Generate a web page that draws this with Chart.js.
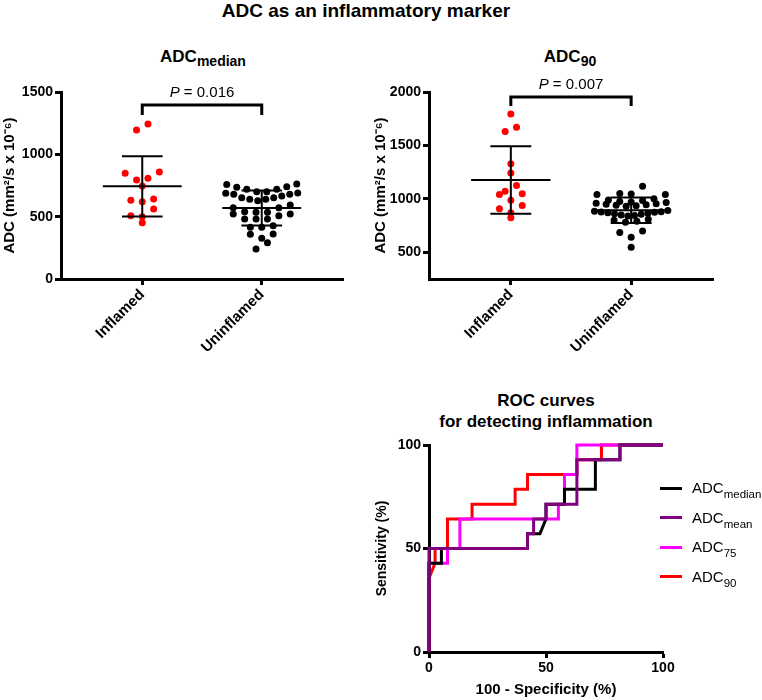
<!DOCTYPE html>
<html>
<head>
<meta charset="utf-8">
<script src="https://cdn.jsdelivr.net/npm/chart.js@4.4.1/dist/chart.umd.min.js"></script>
<style>
  html, body { margin: 0; padding: 0; background: #fff; }
  body { font-family: 'Liberation Sans', Arial, Helvetica, sans-serif; color: #000; }
  #page { position: relative; width: 762px; height: 700px; overflow: hidden; }
  canvas { position: absolute; }
  .title { position: absolute; font-weight: bold; text-align: center; white-space: nowrap; }
  .title sub { font-size: 14px; position: relative; top: 4px; vertical-align: baseline; }
  .legend { position: absolute; left: 660px; height: 18px; width: 110px; font-size: 15px; line-height: 18px; white-space: nowrap; }
  .legend .swatch { position: absolute; left: 0; top: 7.5px; width: 22px; height: 3px; }
  .legend .lbl { position: absolute; left: 32px; top: 0; }
  .legend sub { font-size: 11.5px; position: relative; top: 5px; vertical-align: baseline; }
</style>
</head>
<body>
<div id="page">
  <div class="title" style="left:216px; top:0; width:300px; font-size:19px; line-height:22px;">ADC as an inflammatory marker</div>
  <div class="title" style="left:103px; top:47px; width:200px; font-size:17px; line-height:20px;">ADC<sub>median</sub></div>
  <div class="title" style="left:470px; top:47px; width:200px; font-size:17px; line-height:20px;">ADC<sub>90</sub></div>
  <div class="title" style="left:396px; top:390px; width:300px; font-size:17px; line-height:21px;">ROC curves<br>for detecting inflammation</div>
  <canvas id="medianChart" width="360" height="300" style="left:0; top:60px;"></canvas>
  <canvas id="p90Chart" width="360" height="300" style="left:368px; top:60px;"></canvas>
  <canvas id="rocChart" width="310" height="270" style="left:370px; top:430px;"></canvas>
  <div id="rocLegend"></div>
</div>
<script>
// ---- data ----
const groups = ['Inflamed', 'Uninflamed'];

const medianInflamed = [1243, 1195, 858, 848, 808, 794, 746, 642, 631, 620, 561, 508, 500, 452];
const medianUninflamed = [762, 758, 740, 735, 719, 719, 700, 700, 690, 687, 679, 679,
  666, 652, 652, 639, 639, 628, 593, 572, 572,
  540, 535, 535, 521, 521, 508, 481, 481, 481,
  428, 415, 415, 361, 358, 326, 291, 241];
const medianTicks = [0, 500, 1000, 1500];

const p90Inflamed = [1795, 1671, 1630, 1329, 1242, 1124, 1071, 1047, 1040, 987, 938, 907, 870, 823];
const p90Uninflamed = [1118, 1050, 1045, 1040, 1040,
  1000, 990, 985, 975, 970, 965, 960, 955, 950, 945, 940, 935, 930,
  890, 885, 880, 878, 875, 870, 865, 860, 855, 850, 845, 840,
  810, 800, 790, 780, 700, 686, 640, 547];
const p90Ticks = [500, 1000, 1500, 2000];

const pValues = ['0.016', '0.007'];

// ROC curves: 100 - specificity (x) and sensitivity (y), in %
const rocNames = ['median', 'mean', '75', '90'];
const rocMedianX = [0, 0, 5.3, 5.3, 42.1, 42.1, 47.4, 50, 50, 57.9, 57.9, 71.1, 71.1, 81.6, 81.6, 100];
const rocMedianY = [0, 42.9, 42.9, 50, 50, 57.1, 57.1, 64.3, 71.4, 71.4, 78.6, 78.6, 92.9, 92.9, 100, 100];
const rocMeanX = [0, 0, 42.1, 42.1, 44.7, 44.7, 50, 50, 63.2, 63.2, 81.6, 81.6, 100];
const rocMeanY = [0, 50, 50, 57.1, 57.1, 64.3, 64.3, 71.4, 71.4, 92.9, 92.9, 100, 100];
const roc75X = [0, 0, 7.9, 7.9, 13.2, 13.2, 55.3, 55.3, 57.9, 57.9, 63.2, 63.2, 100];
const roc75Y = [0, 42.9, 42.9, 50, 50, 64.3, 64.3, 71.4, 71.4, 85.7, 85.7, 100, 100];
const roc90X = [0, 0, 2.6, 2.6, 7.9, 7.9, 18.4, 18.4, 36.8, 36.8, 42.1, 42.1, 63.2, 63.2, 73.7, 73.7, 100];
const roc90Y = [0, 35.7, 42.9, 50, 50, 64.3, 64.3, 71.4, 71.4, 78.6, 78.6, 85.7, 85.7, 92.9, 92.9, 100, 100];
const rocTicks = [0, 50, 100];

// ---- helpers ----
const FONT = "'Liberation Sans', Arial, Helvetica, sans-serif";
const dotColors = ['#ff0000', '#000000'];
const rocColors = ['#000000', '#800080', '#ff00ff', '#ff0000'];
const rocOrder = [1, 0, 2, 3]; // purple on top, red underneath

const toPoints = (xs, ys) => xs.map((x, i) => ({ x, y: ys[i] }));
const plainTick = v => String(v);

const mean = (a) => a.reduce((s, v) => s + v, 0) / a.length;
const sd = (a) => {
  const m = mean(a);
  return Math.sqrt(a.reduce((s, v) => s + (v - m) * (v - m), 0) / (a.length - 1));
};

// scatter dot plot layout: points in horizontal bins, spread from the centre out
function swarmOffsets(ys, binH, maxStep, width) {
  const idx = ys.map((_, i) => i).sort((a, b) => ys[a] - ys[b]);
  const out = new Array(ys.length).fill(0);
  let k = 0;
  while (k < idx.length) {
    const start = ys[idx[k]];
    const bin = [];
    while (k < idx.length && ys[idx[k]] - start < binH) bin.push(idx[k++]);
    bin.sort((a, b) => ys[b] - ys[a]); // lowest value in the middle
    const n = bin.length;
    const step = Math.min(maxStep, width / n);
    bin.forEach((pi, j) => {
      let slot;
      if (n % 2) slot = j === 0 ? 0 : Math.ceil(j / 2) * (j % 2 ? -1 : 1);
      else slot = (Math.floor(j / 2) + 0.5) * (j % 2 ? 1 : -1);
      out[pi] = slot * step;
    });
  }
  return out;
}

const swarmPlugin = {
  id: 'swarm',
  afterDatasetsUpdate(chart) {
    const xs = chart.scales.x;
    chart.data.datasets.forEach((ds, di) => {
      const pts = chart.getDatasetMeta(di).data;
      const offs = swarmOffsets(pts.map(p => p.y), 8, 11.4, 80);
      pts.forEach((p, i) => { p.x = xs.getPixelForValue(ds.data[i].x) + offs[i]; });
    });
  }
};

const meanSdPlugin = {
  id: 'meanSd',
  afterDatasetsDraw(chart) {
    const { ctx, scales: { x, y } } = chart;
    ctx.save();
    ctx.strokeStyle = '#000';
    ctx.lineWidth = 2;
    chart.data.datasets.forEach((ds, di) => {
      const vals = ds.data.map(d => d.y);
      const m = mean(vals), s = sd(vals);
      const cx = di + 1;
      const line = (x1, y1, x2, y2) => {
        ctx.beginPath();
        ctx.moveTo(x.getPixelForValue(x1), y.getPixelForValue(y1));
        ctx.lineTo(x.getPixelForValue(x2), y.getPixelForValue(y2));
        ctx.stroke();
      };
      line(cx - 0.33, m, cx + 0.33, m);
      line(cx, m - s, cx, m + s);
      line(cx - 0.17, m + s, cx + 0.17, m + s);
      line(cx - 0.17, m - s, cx + 0.17, m - s);
    });
    ctx.restore();
  }
};

const bracketPlugin = {
  id: 'pBracket',
  afterDraw(chart, args, opts) {
    const { ctx, scales: { x, y } } = chart;
    const x1 = x.getPixelForValue(1), x2 = x.getPixelForValue(2);
    const yTop = y.getPixelForValue(opts.top), yDrop = y.getPixelForValue(opts.drop);
    ctx.save();
    ctx.strokeStyle = '#000';
    ctx.lineWidth = 3;
    ctx.lineJoin = 'miter';
    ctx.beginPath();
    ctx.moveTo(x1, yDrop);
    ctx.lineTo(x1, yTop);
    ctx.lineTo(x2, yTop);
    ctx.lineTo(x2, yDrop);
    ctx.stroke();
    // "P = 0.016" with an italic P
    const rest = ' = ' + opts.label;
    ctx.fillStyle = '#000';
    ctx.textBaseline = 'alphabetic';
    ctx.textAlign = 'left';
    ctx.font = `italic 15px ${FONT}`;
    const wP = ctx.measureText('P').width;
    ctx.font = `15px ${FONT}`;
    const wR = ctx.measureText(rest).width;
    const start = (x1 + x2) / 2 - (wP + wR) / 2;
    ctx.font = `italic 15px ${FONT}`;
    ctx.fillText('P', start, yTop - 8);
    ctx.font = `15px ${FONT}`;
    ctx.fillText(rest, start + wP, yTop - 8);
    ctx.restore();
  }
};

const axisStyle = {
  grid: { display: true, drawOnChartArea: false, drawTicks: true, tickLength: 6, tickWidth: 3, tickColor: '#000' },
  border: { display: true, color: '#000', width: 3 }
};

function dotPlot(id, sets, yMin, yMax, yTicks, pLabel, bracket, titlePad, padRight) {
  return new Chart(document.getElementById(id), {
    type: 'scatter',
    data: {
      datasets: sets.map((vals, i) => ({
        data: vals.map(v => ({ x: i + 1, y: v })),
        backgroundColor: dotColors[i],
        borderWidth: 0,
        pointRadius: 3.5,
        pointHoverRadius: 3.5
      }))
    },
    options: {
      responsive: false,
      animation: false,
      events: [],
      layout: { autoPadding: false, padding: { top: 32, right: padRight, bottom: 0, left: 0 } },
      plugins: {
        legend: { display: false },
        tooltip: { enabled: false },
        pBracket: { top: bracket[0], drop: bracket[1], label: pLabel }
      },
      scales: {
        x: {
          type: 'linear', min: 0.32, max: 2.68,
          afterBuildTicks: s => { s.ticks = groups.map((g, i) => ({ value: i + 1 })); },
          afterFit: s => { s.height = 81; },
          ticks: {
            autoSkip: false, minRotation: 45, maxRotation: 45, padding: 1, color: '#000',
            font: { family: FONT, size: 15, weight: 'bold' },
            callback: v => groups[v - 1]
          },
          ...axisStyle
        },
        y: {
          min: yMin, max: yMax,
          afterBuildTicks: s => { s.ticks = yTicks.map(v => ({ value: v })); },
          afterFit: s => { s.width = 61; },
          ticks: { padding: 2, color: '#000', font: { family: FONT, size: 14, weight: 'bold' }, callback: plainTick },
          title: {
            display: true, text: 'ADC (mm²/s x 10⁻⁶)', color: '#000',
            font: { family: FONT, size: 15, weight: 'bold' }, padding: { top: titlePad, bottom: 0 }
          },
          ...axisStyle
        }
      }
    },
    plugins: [swarmPlugin, meanSdPlugin, bracketPlugin]
  });
}

dotPlot('medianChart', [medianInflamed, medianUninflamed], 0, 1500, medianTicks, pValues[0], [1395, 1315], 1, 17);
dotPlot('p90Chart', [p90Inflamed, p90Uninflamed], 250, 2000, p90Ticks, pValues[1], [1953, 1870], 4, 15);

// ---- ROC panel ----
const rocSeries = [
  toPoints(rocMedianX, rocMedianY),
  toPoints(rocMeanX, rocMeanY),
  toPoints(roc75X, roc75Y),
  toPoints(roc90X, roc90Y)
];

new Chart(document.getElementById('rocChart'), {
  type: 'line',
  data: {
    datasets: rocSeries.map((pts, i) => ({
      label: 'ADC ' + rocNames[i],
      data: pts,
      borderColor: rocColors[i],
      backgroundColor: rocColors[i],
      borderWidth: 3,
      borderJoinStyle: 'miter',
      borderCapStyle: 'butt',
      pointRadius: 0,
      tension: 0,
      fill: false,
      clip: false,
      order: rocOrder[i]
    }))
  },
  options: {
    responsive: false,
    animation: false,
    events: [],
    layout: { autoPadding: false, padding: { top: 15, right: 17, bottom: 0, left: 0 } },
    plugins: { legend: { display: false }, tooltip: { enabled: false } },
    scales: {
      x: {
        type: 'linear', min: 0, max: 100,
        afterBuildTicks: s => { s.ticks = rocTicks.map(v => ({ value: v })); },
        afterFit: s => { s.height = 48; },
        ticks: { padding: 2, maxRotation: 0, color: '#000', font: { family: FONT, size: 14, weight: 'bold' }, callback: plainTick },
        title: {
          display: true, text: '100 - Specificity (%)', color: '#000',
          font: { family: FONT, size: 15, weight: 'bold' }, padding: { top: 0, bottom: 1 }
        },
        ...axisStyle
      },
      y: {
        min: 0, max: 100,
        afterBuildTicks: s => { s.ticks = rocTicks.map(v => ({ value: v })); },
        afterFit: s => { s.width = 59; },
        ticks: { padding: 2, color: '#000', font: { family: FONT, size: 14, weight: 'bold' }, callback: plainTick },
        title: {
          display: true, text: 'Sensitivity (%)', color: '#000',
          font: { family: FONT, size: 14, weight: 'bold' }, padding: { top: 4, bottom: 0 }
        },
        ...axisStyle
      }
    }
  }
});

// legend with subscripts, built from the same names and colours
const legendBox = document.getElementById('rocLegend');
rocNames.forEach((name, i) => {
  const row = document.createElement('div');
  row.className = 'legend';
  row.style.top = (479 + i * 29.5) + 'px';
  row.innerHTML = `<span class="swatch" style="background:${rocColors[i]}"></span><span class="lbl">ADC<sub>${name}</sub></span>`;
  legendBox.appendChild(row);
});
</script>
</body>
</html>
